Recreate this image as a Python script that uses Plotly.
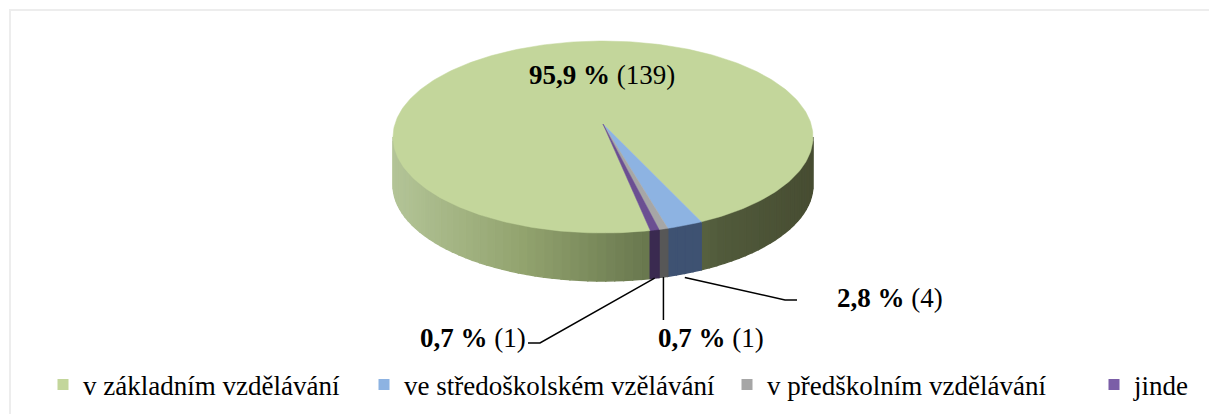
import math
import plotly.graph_objects as go

# ---- data ----
categories = ["v základním vzdělávání", "ve středoškolském vzělávání",
              "v předškolním vzdělávání", "jinde"]
counts = [139, 4, 1, 1]
top_colors = ["#c3d69b", "#8db3e2", "#a6a6a6", "#6b4f92"]
legend_colors = ["#c3d69b", "#8db3e2", "#a6a6a6", "#7b5ea7"]
side_colors = [None, "#3e5272", "#575757", "#3a2a50"]

W, H = 1209, 414
FONT = "Liberation Serif"

# ---- pie geometry (pixel-space axes) ----
cx, cy = 603, 137
rx, ry = 210, 96
depth = 48
apex = (603, 124)
rotation = 167.0  # clockwise degrees from 12 o'clock where first slice starts


def pt(phi, dz=0.0):
    r = math.radians(phi)
    return cx + rx * math.sin(r), cy - ry * math.cos(r) + dz


total = sum(counts)
bounds = []
a = rotation
for c in counts:
    span = 360.0 * c / total
    bounds.append((a, a + span))
    a += span


def lerp_hex(c1, c2, t):
    c1 = [int(c1[i:i + 2], 16) for i in (1, 3, 5)]
    c2 = [int(c2[i:i + 2], 16) for i in (1, 3, 5)]
    return "#" + "".join(f"{round(p + (q - p) * t):02x}" for p, q in zip(c1, c2))


def green_side(x):
    stops = [(393, "#b3c497"), (520, "#93a46f"), (640, "#6b7a50"), (720, "#515a3b"), (812, "#474d32")]
    if x <= stops[0][0]:
        return stops[0][1]
    for (x0, c0), (x1, c1) in zip(stops, stops[1:]):
        if x <= x1:
            return lerp_hex(c0, c1, (x - x0) / (x1 - x0))
    return stops[-1][1]


fig = go.Figure()

# side walls (front half: phi 90..270)
for i, (s, e) in enumerate(bounds):
    pieces = []
    for off in (-360, 0, 360):
        lo, hi = max(s + off, 90), min(e + off, 270)
        if hi > lo:
            pieces.append((lo, hi))
    for lo, hi in pieces:
        n = max(1, int(math.ceil((hi - lo) / 2.5)))
        for k in range(n):
            p0 = lo + (hi - lo) * k / n
            p1 = lo + (hi - lo) * (k + 1) / n
            steps = [p0 + (p1 - p0) * j / 4 for j in range(5)]
            top = [pt(p) for p in steps]
            bot = [pt(p, depth) for p in reversed(steps)]
            poly = top + bot + [top[0]]
            xm = pt((p0 + p1) / 2)[0]
            col = green_side(xm) if i == 0 else side_colors[i]
            fig.add_trace(go.Scatter(
                x=[p[0] for p in poly], y=[p[1] for p in poly],
                mode="lines", fill="toself", fillcolor=col,
                line=dict(color=col, width=1.4),
                hoverinfo="skip", showlegend=False))

# top faces
for i, (s, e) in enumerate(bounds):
    n = max(2, int((e - s) / 1.0))
    arc = [pt(s + (e - s) * j / n) for j in range(n + 1)]
    poly = [apex] + arc + [apex]
    fig.add_trace(go.Scatter(
        x=[p[0] for p in poly], y=[p[1] for p in poly],
        mode="lines", fill="toself", fillcolor=top_colors[i],
        line=dict(color=top_colors[i], width=0.5),
        hoverinfo="text", text=f"{categories[i]}: {counts[i]}", showlegend=False))

# legend entries: one legend per item so they sit where the original places them
legend_px = [43, 364, 727, 1094]  # left edge of each legend box (screen px)
legend_y_px = 385
legend_layouts = {}
for i, cat in enumerate(categories):
    lname = "legend" if i == 0 else f"legend{i + 1}"
    fig.add_trace(go.Scatter(
        x=[None], y=[None], mode="markers", name=cat,
        marker=dict(symbol="square", size=11, color=legend_colors[i]),
        showlegend=True, legend=lname))
    legend_layouts[lname] = dict(
        orientation="h", x=legend_px[i] / W, xanchor="left",
        y=1 - legend_y_px / H, yanchor="middle",
        font=dict(family=FONT, size=27, color="black"),
        itemwidth=30, bgcolor="rgba(0,0,0,0)")


def fmt_pct(c):
    return f"{100 * c / total:.1f}".replace(".", ",") + " %"


labels = [f"<b>{fmt_pct(c)}</b> ({c})" for c in counts]

mids = [(s + e) / 2 for s, e in bounds]
# green inside
fig.add_annotation(x=602, y=75, text=labels[0], showarrow=False,
                   xanchor="center", yanchor="middle")
# blue
bx, by = pt(mids[1], depth)
fig.add_trace(go.Scatter(x=[bx, 785, 797], y=[by + 4, 300, 300], mode="lines",
                         line=dict(color="black", width=1.5), hoverinfo="skip", showlegend=False))
fig.add_annotation(x=835, y=298, text=labels[1], showarrow=False,
                   xanchor="left", yanchor="middle")
# gray
gx, gy = pt(mids[2], depth)
fig.add_trace(go.Scatter(x=[gx, gx], y=[gy, 320], mode="lines",
                         line=dict(color="black", width=1.5), hoverinfo="skip", showlegend=False))
fig.add_annotation(x=656, y=338, text=labels[2], showarrow=False,
                   xanchor="left", yanchor="middle")
# purple
px_, py_ = pt(mids[3], depth)
fig.add_trace(go.Scatter(x=[px_, 540, 528], y=[py_, 343, 343], mode="lines",
                         line=dict(color="black", width=1.5), hoverinfo="skip", showlegend=False))
fig.add_annotation(x=528, y=338, text=labels[3], showarrow=False,
                   xanchor="right", yanchor="middle")

fig.update_layout(
    width=W, height=H,
    margin=dict(l=0, r=0, t=0, b=0),
    paper_bgcolor="white", plot_bgcolor="white",
    font=dict(family=FONT, size=27, color="black"),
    xaxis=dict(range=[0, W], visible=False, fixedrange=True),
    yaxis=dict(range=[H, 0], visible=False, fixedrange=True),
    showlegend=True,
    shapes=[dict(type="rect", xref="x", yref="y", x0=10, y0=10, x1=W + 30, y1=H + 30,
                 line=dict(color="#ededed", width=2), layer="below")],
    **legend_layouts,
)

fig.write_html("out.html",
               config={"displayModeBar": False},
               post_script="document.body.style.margin='0';document.body.style.overflow='hidden';")
